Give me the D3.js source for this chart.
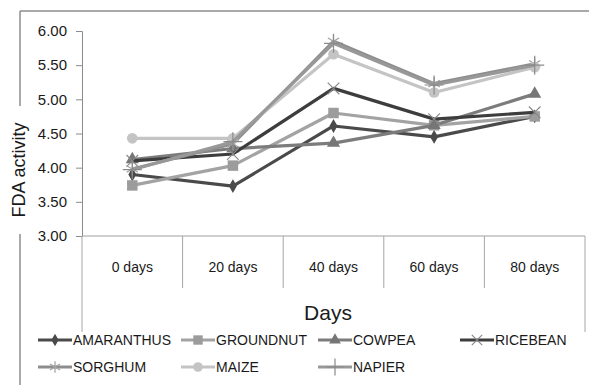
<!DOCTYPE html>
<html>
<head>
<meta charset="utf-8">
<script src="https://cdn.jsdelivr.net/npm/d3@7"></script>
<style>
  html, body { margin: 0; padding: 0; background: #fff; }
  svg { display: block; }
  text { font-family: "Liberation Sans", Arial, sans-serif; fill: #1a1a1a; }
</style>
</head>
<body>
<svg id="chart" width="589" height="385"></svg>
<script>
// Sampling days
const days = ["0 days", "20 days", "40 days", "60 days", "80 days"];
const yTicks = [3.0, 3.5, 4.0, 4.5, 5.0, 5.5, 6.0];

// FDA activity per crop
const amaranthus = [3.90, 3.73, 4.61, 4.45, 4.75];
const groundnut  = [3.74, 4.03, 4.80, 4.62, 4.75];
const cowpea     = [4.12, 4.28, 4.36, 4.62, 5.08];
const ricebean   = [4.10, 4.20, 5.16, 4.71, 4.81];
const sorghum    = [3.98, 4.35, 5.85, 5.23, 5.52];
const maize      = [4.43, 4.43, 5.66, 5.10, 5.47];
const napier     = [3.97, 4.38, 5.82, 5.21, 5.50];

const seriesNames = ["AMARANTHUS", "GROUNDNUT", "COWPEA", "RICEBEAN", "SORGHUM", "MAIZE", "NAPIER"];
const seriesValues = [amaranthus, groundnut, cowpea, ricebean, sorghum, maize, napier];

const styles = {
  AMARANTHUS: { line: "#4a4a4a", fill: "#4a4a4a", symbol: d3.symbolDiamond, size: 55, stroked: false },
  GROUNDNUT:  { line: "#a3a3a3", fill: "#9c9c9c", symbol: d3.symbolSquare,  size: 110, stroked: false },
  COWPEA:     { line: "#7c7c7c", fill: "#767676", symbol: d3.symbolTriangle, size: 75, stroked: false },
  RICEBEAN:   { line: "#3d3d3d", fill: "none",    symbol: d3.symbolTimes,  size: 90, stroked: true, mark: "#8a8a8a" },
  SORGHUM:    { line: "#8e8e8e", fill: "none",    symbol: d3.symbolAsterisk, size: 120, stroked: true, mark: "#a0a0a0" },
  MAIZE:      { line: "#c4c4c4", fill: "#c4c4c4", symbol: d3.symbolCircle, size: 90, stroked: false },
  NAPIER:     { line: "#989898", fill: "none",    symbol: d3.symbolPlus,   size: 120, stroked: true, mark: "#8a8a8a" }
};

const svg = d3.select("#chart");

const plot = { left: 82, right: 585, top: 31, bottom: 236 };

const x = d3.scaleBand().domain(days).range([plot.left, plot.right]).padding(0);
const y = d3.scaleLinear().domain([3, 6]).range([plot.bottom, plot.top]);

// Outer chart frame (top and left edges)
svg.append("line").attr("x1", 20).attr("x2", 589).attr("y1", 11).attr("y2", 11)
  .attr("stroke", "#8c8c8c").attr("stroke-width", 1.5);
svg.append("line").attr("x1", 20).attr("x2", 20).attr("y1", 11).attr("y2", 385)
  .attr("stroke", "#8c8c8c").attr("stroke-width", 1.5);

// Value axis
const yAxis = d3.axisLeft(y).tickValues(yTicks).tickFormat(d3.format(".2f")).tickSize(6).tickPadding(9);
const gy = svg.append("g").attr("transform", `translate(${plot.left},0)`).call(yAxis);
gy.select(".domain").attr("stroke", "#8c8c8c");
gy.selectAll(".tick line").attr("stroke", "#8c8c8c");
gy.selectAll(".tick text").style("font-size", "15px").attr("fill", "#1a1a1a");

// Category axis line and dividers
svg.append("line").attr("x1", plot.left).attr("x2", plot.right)
  .attr("y1", plot.bottom).attr("y2", plot.bottom).attr("stroke", "#a0a0a0");
const edges = days.map(d => x(d)).concat([x(days[days.length - 1]) + x.bandwidth()]);
svg.append("g").selectAll("line").data(edges).join("line")
  .attr("x1", d => d).attr("x2", d => d)
  .attr("y1", plot.bottom)
  .attr("y2", (d, i) => (i === 0 || i === edges.length - 1) ? 332 : 288)
  .attr("stroke", "#a6a6a6");

svg.append("g").selectAll("text").data(days).join("text")
  .attr("x", d => x(d) + x.bandwidth() / 2)
  .attr("y", 272)
  .attr("text-anchor", "middle")
  .style("font-size", "14px")
  .text(d => d);

// Axis titles
svg.append("text").attr("x", 328).attr("y", 320).attr("text-anchor", "middle")
  .style("font-size", "21px").attr("fill", "#000").text("Days");

const yTitle = svg.append("g").attr("transform", "translate(25,170) rotate(-90)");
yTitle.append("rect").attr("x", -64).attr("y", -18).attr("width", 128).attr("height", 24).attr("fill", "#fff");
yTitle.append("text").attr("x", 0).attr("y", 0).attr("text-anchor", "middle")
  .style("font-size", "18px").attr("fill", "#000").text("FDA activity");

// Series lines and markers
const line = d3.line().x((d, i) => x(days[i]) + x.bandwidth() / 2).y(d => y(d));

seriesNames.forEach((name, k) => {
  const st = styles[name];
  const vals = seriesValues[k];
  const g = svg.append("g");
  g.append("path").datum(vals).attr("d", line)
    .attr("fill", "none").attr("stroke", st.line).attr("stroke-width", 3.2)
    .attr("stroke-linejoin", "round");
  g.selectAll("path.mk").data(vals).join("path").attr("class", "mk")
    .attr("transform", (d, i) => `translate(${x(days[i]) + x.bandwidth() / 2},${y(d)})`)
    .attr("d", d3.symbol().type(st.symbol).size(st.size))
    .attr("fill", st.stroked ? "none" : st.fill)
    .attr("stroke", st.stroked ? st.mark : "none")
    .attr("stroke-width", st.stroked ? 1.2 : 0);
});

// Legend
const legendItems = [
  { name: "AMARANTHUS", x: 38, y: 340 },
  { name: "GROUNDNUT",  x: 181, y: 340 },
  { name: "COWPEA",     x: 318, y: 340 },
  { name: "RICEBEAN",   x: 460, y: 340 },
  { name: "SORGHUM",    x: 38, y: 367 },
  { name: "MAIZE",      x: 181, y: 367 },
  { name: "NAPIER",     x: 318, y: 367 }
];
const lg = svg.append("g").selectAll("g").data(legendItems).join("g")
  .attr("transform", d => `translate(${d.x},${d.y})`);
lg.append("line").attr("x1", 0).attr("x2", 34).attr("y1", 0).attr("y2", 0)
  .attr("stroke", d => styles[d.name].line).attr("stroke-width", 3);
lg.append("path").attr("transform", "translate(17,0)")
  .attr("d", d => d3.symbol().type(styles[d.name].symbol).size(styles[d.name].size * 0.8)())
  .attr("fill", d => styles[d.name].stroked ? "none" : styles[d.name].fill)
  .attr("stroke", d => styles[d.name].stroked ? styles[d.name].mark : "none")
  .attr("stroke-width", d => styles[d.name].stroked ? 1.2 : 0);
lg.append("text").attr("x", 35).attr("y", 5).style("font-size", "14px").text(d => d.name);
</script>
</body>
</html>
